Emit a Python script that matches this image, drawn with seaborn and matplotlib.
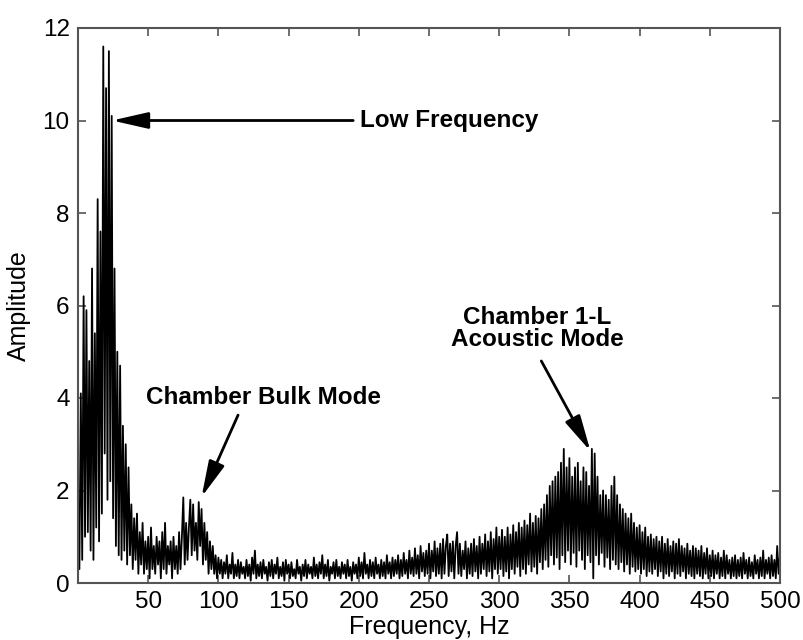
import numpy as np
import pandas as pd
import matplotlib
matplotlib.use("Agg")
import matplotlib.pyplot as plt
import seaborn as sns

# ---------------- data (1 Hz steps) ----------------
freq_start, freq_stop = 1, 500

amp_0_100 = [
    0.3, 4.1, 0.5, 6.2, 1.0, 5.9, 1.1, 4.8, 0.7, 6.8,
    0.5, 5.4, 1.2, 8.3, 0.9, 7.6, 1.5, 11.6, 2.8, 10.7,
    1.8, 11.5, 2.2, 10.1, 1.4, 6.8, 0.8, 5.0, 0.6, 4.7,
    0.5, 3.4, 0.7, 3.0, 0.4, 2.5, 0.6, 1.7, 0.3, 1.4,
    0.5, 1.5, 0.2, 1.1, 0.4, 1.3, 0.2, 0.9, 0.3, 1.0,
    0.1, 1.2, 0.3, 0.8, 0.2, 1.0, 0.4, 0.9, 0.1, 1.1,
    0.3, 1.3, 0.2, 0.8, 0.4, 0.9, 0.1, 1.0, 0.3, 0.8,
    0.2, 1.1, 0.3, 1.0, 1.85, 0.4, 1.3, 0.5, 1.2, 1.8,
    0.6, 1.7, 0.7, 1.3, 0.5, 1.75, 0.8, 1.6, 0.4, 1.3,
    0.5, 1.1, 0.2, 0.9, 0.3, 0.8, 0.2, 0.6, 0.1, 0.55,
]
amp_100_300 = [
    0.2, 0.5, 0.1, 0.45, 0.2, 0.6, 0.1, 0.4, 0.2, 0.65,
    0.1, 0.4, 0.15, 0.5, 0.1, 0.45, 0.2, 0.35, 0.1, 0.5,
    0.15, 0.4, 0.05, 0.55, 0.2, 0.7, 0.1, 0.4, 0.15, 0.45,
    0.1, 0.5, 0.2, 0.35, 0.05, 0.45, 0.15, 0.5, 0.1, 0.4,
    0.2, 0.55, 0.1, 0.35, 0.15, 0.45, 0.05, 0.5, 0.2, 0.4,
    0.1, 0.45, 0.15, 0.3, 0.1, 0.5, 0.2, 0.35, 0.05, 0.4,
    0.15, 0.5, 0.1, 0.4, 0.2, 0.35, 0.1, 0.55, 0.15, 0.4,
    0.1, 0.45, 0.2, 0.6, 0.1, 0.4, 0.15, 0.5, 0.05, 0.35,
    0.2, 0.45, 0.1, 0.5, 0.15, 0.35, 0.1, 0.45, 0.2, 0.4,
    0.1, 0.5, 0.15, 0.35, 0.05, 0.45, 0.2, 0.4, 0.1, 0.55,
    0.15, 0.45, 0.1, 0.65, 0.2, 0.4, 0.1, 0.5, 0.15, 0.45,
    0.1, 0.55, 0.2, 0.4, 0.1, 0.5, 0.15, 0.45, 0.1, 0.6,
    0.2, 0.45, 0.1, 0.55, 0.15, 0.5, 0.2, 0.6, 0.1, 0.5,
    0.15, 0.65, 0.2, 0.5, 0.1, 0.7, 0.2, 0.55, 0.15, 0.75,
    0.2, 0.6, 0.1, 0.8, 0.25, 0.65, 0.15, 0.7, 0.2, 0.85,
    0.1, 0.7, 0.25, 0.9, 0.15, 0.75, 0.2, 0.85, 0.1, 0.95,
    0.2, 0.8, 1.05, 0.15, 0.85, 0.25, 0.9, 0.1, 0.8, 1.1,
    0.2, 0.85, 0.15, 0.7, 0.3, 0.9, 0.1, 0.75, 0.2, 0.85,
    0.15, 0.95, 0.25, 0.8, 0.1, 1.0, 0.2, 0.85, 0.3, 1.05,
    0.15, 0.9, 0.25, 1.1, 0.1, 0.95, 0.3, 1.2, 0.2, 1.0,
]
amp_300_500 = [
    0.3, 1.15, 0.15, 1.0, 0.25, 1.2, 0.1, 1.05, 0.3, 1.25,
    0.2, 1.1, 0.35, 1.3, 0.15, 1.2, 0.3, 1.35, 0.2, 1.25,
    0.4, 1.5, 0.25, 1.3, 0.35, 1.45, 0.2, 1.4, 0.45, 1.6,
    0.3, 1.7, 0.5, 1.9, 0.35, 2.1, 0.6, 2.2, 0.4, 2.3,
    0.55, 2.4, 0.3, 2.6, 0.6, 2.9, 0.45, 2.5, 0.7, 2.7,
    0.4, 2.3, 0.65, 2.5, 0.35, 2.6, 0.7, 2.2, 0.5, 2.5,
    0.3, 2.4, 0.6, 2.1, 0.45, 2.9, 0.1, 2.8, 0.6, 2.3,
    0.4, 1.9, 0.65, 2.0, 0.35, 1.9, 0.55, 1.8, 0.3, 2.1,
    0.5, 2.3, 0.4, 1.9, 0.3, 1.7, 0.45, 1.6, 0.25, 1.5,
    0.4, 1.4, 0.2, 1.5, 0.35, 1.3, 0.25, 1.2, 0.3, 1.25,
    0.2, 1.1, 0.3, 1.2, 0.15, 1.0, 0.25, 1.05, 0.2, 0.95,
    0.3, 1.0, 0.15, 0.9, 0.25, 1.0, 0.1, 0.85, 0.2, 0.95,
    0.15, 0.8, 0.25, 0.9, 0.1, 0.85, 0.2, 0.95, 0.15, 0.8,
    0.25, 0.75, 0.1, 0.85, 0.2, 0.7, 0.15, 0.8, 0.1, 0.75,
    0.2, 0.7, 0.15, 0.8, 0.1, 0.65, 0.2, 0.75, 0.1, 0.6,
    0.15, 0.7, 0.1, 0.6, 0.2, 0.65, 0.1, 0.55, 0.15, 0.7,
    0.1, 0.6, 0.2, 0.5, 0.1, 0.55, 0.15, 0.6, 0.1, 0.5,
    0.15, 0.55, 0.1, 0.65, 0.2, 0.5, 0.1, 0.55, 0.15, 0.45,
    0.1, 0.6, 0.2, 0.5, 0.1, 0.55, 0.15, 0.7, 0.1, 0.5,
    0.2, 0.55, 0.1, 0.6, 0.15, 0.5, 0.1, 0.8, 0.2, 0.6,
]

x_ticks = [50, 100, 150, 200, 250, 300, 350, 400, 450, 500]
y_ticks = [0, 2, 4, 6, 8, 10, 12]

label_low = "Low Frequency"
label_bulk = "Chamber Bulk Mode"
label_acoustic = "Chamber 1-L\nAcoustic Mode"

# ---------------- figure ----------------
sns.set_style("ticks")
plt.rcParams["font.family"] = ["Liberation Sans", "DejaVu Sans"]
plt.rcParams["text.color"] = "black"
plt.rcParams["axes.labelcolor"] = "black"
plt.rcParams["xtick.color"] = "black"
plt.rcParams["ytick.color"] = "black"

amplitude = amp_0_100 + amp_100_300 + amp_300_500
freq = np.arange(freq_start, freq_stop + 1)
df = pd.DataFrame({"Frequency": freq, "Amplitude": amplitude})

fig = plt.figure(figsize=(8.04, 6.40), dpi=100)
ax = fig.add_axes([78 / 804, 1 - 583 / 640, 702 / 804, 555 / 640])

sns.lineplot(data=df, x="Frequency", y="Amplitude", color="black",
             linewidth=1.3, estimator=None, ax=ax)

ax.set_xlim(0, 500)
ax.set_ylim(0, 12)
ax.set_xticks(x_ticks)
ax.set_yticks(y_ticks)
ax.set_xlabel("Frequency, Hz", fontsize=18, labelpad=1, color="black")
ax.set_ylabel("Amplitude", fontsize=18, labelpad=8, color="black")

axis_color = "#555555"
for s in ax.spines.values():
    s.set_visible(True)
    s.set_color(axis_color)
    s.set_linewidth(1.5)
ax.tick_params(axis="both", which="both", direction="in", length=6, width=1.2,
               color=axis_color, labelsize=17.5, top=True, right=True, pad=6,
               labelcolor="black")

arrow_style = dict(arrowstyle="-|>,head_length=2.2,head_width=0.5",
                   mutation_scale=10, color="black", lw=2,
                   shrinkA=0, shrinkB=0)

# Low frequency annotation
ax.annotate("", xy=(24.2, 10.0), xytext=(196, 10.0), arrowprops=arrow_style)
ax.text(201, 10.0, label_low, ha="left", va="center", fontsize=17.5,
        fontweight="bold", color="black")

# Chamber bulk mode
ax.text(132, 4.0, label_bulk, ha="center", va="center", fontsize=17.5,
        fontweight="bold", color="black")
ax.annotate("", xy=(88, 1.86), xytext=(114, 3.63), arrowprops=arrow_style)

# Chamber 1-L acoustic mode
ax.text(327, 5.5, label_acoustic, ha="center", va="center", fontsize=17.5,
        fontweight="bold", linespacing=0.95, multialignment="center",
        color="black")
ax.annotate("", xy=(365, 2.85), xytext=(330, 4.8), arrowprops=arrow_style)

fig.savefig("out.png", dpi=100, facecolor="white")
